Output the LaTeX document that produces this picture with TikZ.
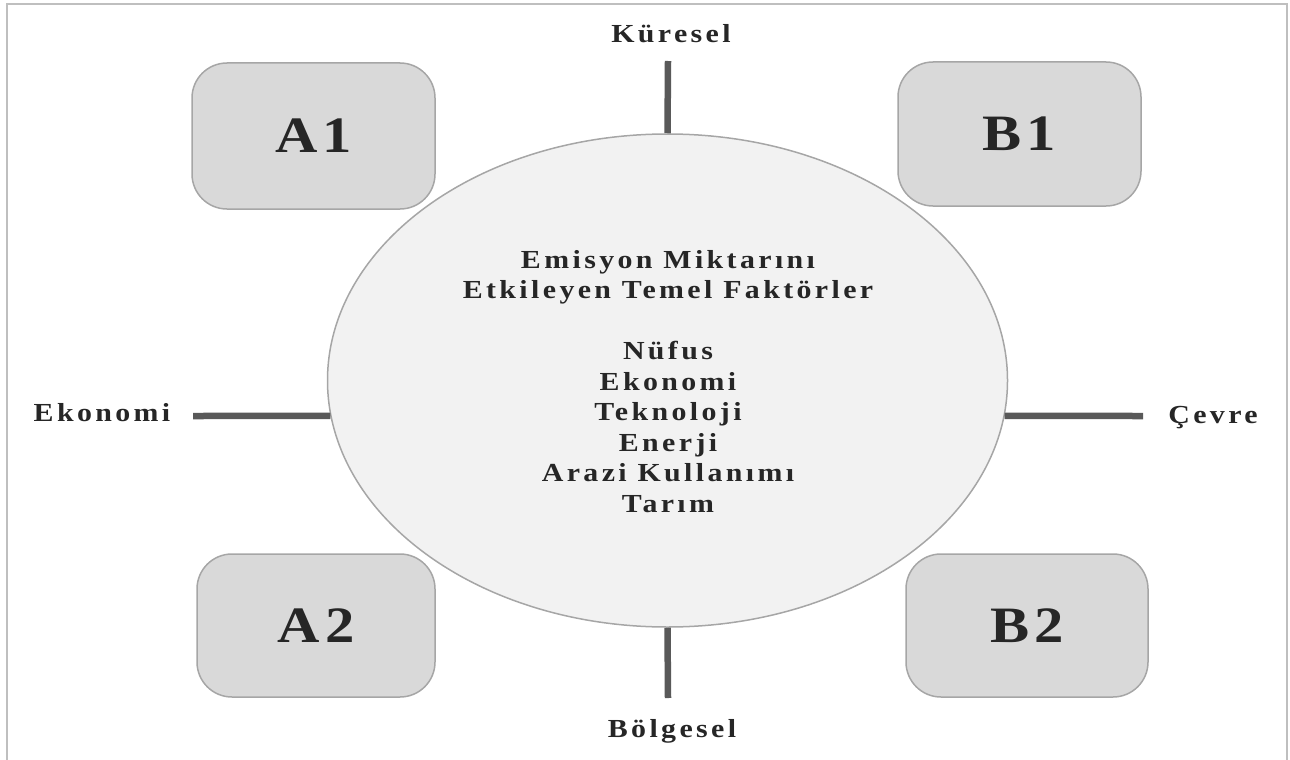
\documentclass[tikz,border=0pt]{standalone}
\usepackage{fontspec}
\setmainfont{Liberation Serif}
\newfontfamily\spacedfont[FakeStretch=1.15, LetterSpace=13]{Liberation Serif}
\newfontfamily\bigspacedfont[FakeStretch=1.15, LetterSpace=10]{Liberation Serif}
\usetikzlibrary{shapes.geometric}
\definecolor{txt}{HTML}{262626}
\definecolor{boxfill}{HTML}{D9D9D9}
\definecolor{boxline}{HTML}{A6A6A6}
\definecolor{ellfill}{HTML}{F2F2F2}
\definecolor{axis}{HTML}{595959}
\definecolor{frame}{HTML}{BFBFBF}
\begin{document}
\begin{tikzpicture}[x=1pt,y=-1pt,
  scen/.style={draw=boxline, fill=boxfill, line width=1.5pt, rounded corners=35pt,
    inner sep=0pt, text=txt, font=\bigspacedfont\bfseries\fontsize{51}{60}\selectfont},
  axisline/.style={draw=axis, line width=6.5pt},
  lab/.style={anchor=base, inner sep=0pt, text=txt, font=\spacedfont\bfseries\fontsize{26}{30.5}\selectfont}]
\useasboundingbox (0,0) rectangle (1290,760);
\clip (0,0) rectangle (1290,760);
\draw[frame, line width=1.5pt] (7,4) rectangle (1287,770);
% ellipse
\node[ellipse, draw=boxline, fill=ellfill, line width=1.5pt, inner sep=0pt,
  minimum width=680pt, minimum height=493pt] (ell) at (667.5,380.5) {};
% boxes
\node[scen, minimum width=243pt, minimum height=146pt] (A1) at (313.5,136) {A1};
\node[scen, minimum width=243pt, minimum height=144pt] (B1) at (1019.5,134) {B1};
\node[scen, minimum width=238pt, minimum height=143pt] (A2) at (316,625.5) {A2};
\node[scen, minimum width=242pt, minimum height=143pt] (B2) at (1027,625.5) {B2};
% axes
\coordinate (topend) at (668,61);
\coordinate (botend) at (668,698);
\coordinate (leftend) at (193,416);
\coordinate (rightend) at (1143,416);
\draw[axisline] (ell.north) -- (topend);
\draw[axisline] (ell.south) -- (botend);
\draw[axisline] (ell.186) -- (leftend);
\draw[axisline] (ell.354) -- (rightend);
% labels
\node[lab] (kur) at (671,43) {Küresel};
\node[lab] (bol) at (672,737) {Bölgesel};
\node[lab] (eko) at (102,421) {Ekonomi};
\node[lab] (cev) at (1213,423) {Çevre};
% center text
\node[lab, anchor=north, align=center] (fac) at (668,250) {Emisyon Miktarını\\Etkileyen Temel Faktörler\\[30.5pt]Nüfus\\Ekonomi\\Teknoloji\\Enerji\\Arazi Kullanımı\\Tarım};
\end{tikzpicture}
\end{document}
